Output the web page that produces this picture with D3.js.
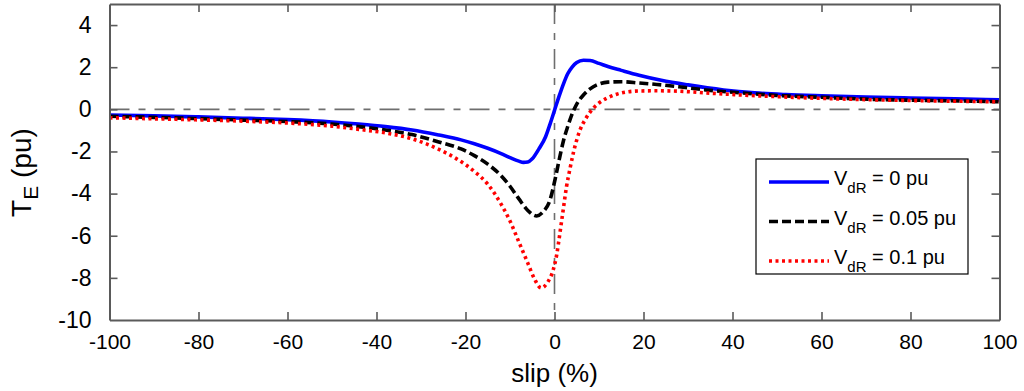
<!DOCTYPE html>
<html>
<head>
<meta charset="utf-8">
<script src="https://cdn.jsdelivr.net/npm/d3@7"></script>
<style>
  html, body { margin: 0; padding: 0; background: #fff; }
  svg { display: block; font-family: "Liberation Sans", Arial, sans-serif; }
</style>
</head>
<body>
<svg id="chart" width="1024" height="391"></svg>
<script>
// ---------------- data ----------------
const xTicks = [-100, -80, -60, -40, -20, 0, 20, 40, 60, 80, 100];
const yTicks = [4, 2, 0, -2, -4, -6, -8, -10];

const slip0 = [-100, -90, -80, -70, -60, -50, -44, -38, -32, -26, -21, -18, -15, -12, -10, -8, -7, -6, -5, -3.5, -2, -1, 0, 1, 2, 3, 4, 5, 6.5, 8, 10, 12, 15, 19, 24, 30, 38, 45, 52, 60, 70, 80, 90, 100];
const te0   = [-0.27, -0.31, -0.36, -0.42, -0.49, -0.6, -0.7, -0.82, -0.98, -1.22, -1.45, -1.63, -1.85, -2.1, -2.29, -2.46, -2.52, -2.5, -2.35, -1.88, -1.3, -0.7, -0.05, 0.6, 1.2, 1.7, 2.02, 2.22, 2.33, 2.32, 2.18, 2.03, 1.85, 1.62, 1.38, 1.16, 0.92, 0.78, 0.7, 0.64, 0.58, 0.54, 0.5, 0.45];

const slip05 = [-100, -90, -80, -70, -60, -50, -44, -38, -32, -26, -21, -18, -15, -12, -10, -8, -6, -4, -2.5, -1, 0, 1, 2, 3, 4, 5, 6.5, 8, 10, 12, 15, 19, 23, 28, 34, 42, 50, 60, 72, 85, 100];
const te05   = [-0.33, -0.38, -0.44, -0.51, -0.58, -0.7, -0.82, -0.98, -1.2, -1.55, -1.88, -2.2, -2.6, -3.15, -3.65, -4.25, -4.8, -5.06, -4.85, -4.3, -3.45, -2.45, -1.5, -0.8, -0.2, 0.25, 0.68, 0.97, 1.2, 1.29, 1.31, 1.25, 1.18, 1.07, 0.92, 0.78, 0.66, 0.57, 0.47, 0.42, 0.36];

const slip1 = [-100, -90, -80, -70, -60, -50, -44, -38, -32, -26, -22, -18, -15, -12, -10, -8, -6, -4.5, -3, -1.5, -0.3, 0.5, 1.2, 2, 2.7, 3.5, 4.2, 5, 5.7, 7, 8.7, 10, 11.7, 14, 16, 19, 23, 28, 34, 42, 50, 60, 72, 85, 100];
const te1   = [-0.4, -0.45, -0.5, -0.56, -0.65, -0.8, -0.95, -1.12, -1.4, -1.9, -2.35, -2.95, -3.55, -4.5, -5.3, -6.3, -7.3, -8.05, -8.48, -8.2, -7.63, -6.9, -5.9, -4.7, -3.67, -2.8, -2.1, -1.45, -1.0, -0.45, 0.05, 0.3, 0.52, 0.72, 0.82, 0.87, 0.88, 0.86, 0.78, 0.68, 0.6, 0.52, 0.45, 0.4, 0.36];

const seriesNames = ["0 pu", "0.05 pu", "0.1 pu"];
const seriesColors = ["#0000ff", "#000000", "#ff0000"];
const seriesDash = [null, "9,4", "3,3.5"];

// ---------------- layout ----------------
const svg = d3.select("#chart");
const L = 109.5, R = 999.5, T = 4, B = 320;
const x = d3.scaleLinear().domain([-100, 100]).range([L, R]);
const y = d3.scaleLinear().domain([-10, 5]).range([B, T]);
const axisColor = "#5a5a5a";
const fmt = d => String(d);

// reference dash-dot lines
const refStroke = "#6e6e6e", refDash = "20,9,7,9";
svg.append("line").attr("x1", x(-100)).attr("x2", x(100)).attr("y1", y(0)).attr("y2", y(0))
  .attr("stroke", refStroke).attr("stroke-width", 1.6).attr("stroke-dasharray", refDash);
svg.append("line").attr("x1", x(0)).attr("x2", x(0)).attr("y1", y(5)).attr("y2", y(-10))
  .attr("stroke", refStroke).attr("stroke-width", 1.6).attr("stroke-dasharray", refDash);

// curves
const data = [
  slip0.map((s, i) => [s, te0[i]]),
  slip05.map((s, i) => [s, te05[i]]),
  slip1.map((s, i) => [s, te1[i]])
];
const line = d3.line().x(d => x(d[0])).y(d => y(d[1])).curve(d3.curveMonotoneX);
data.forEach((d, i) => {
  svg.append("path").datum(d).attr("d", line)
    .attr("fill", "none").attr("stroke", seriesColors[i]).attr("stroke-width", 3.6)
    .attr("stroke-dasharray", seriesDash[i]);
});

// axes (box with inward ticks)
const tickLen = 8;
const axB = svg.append("g").attr("transform", `translate(0,${B})`)
  .call(d3.axisBottom(x).tickValues(xTicks).tickSizeInner(-tickLen).tickSizeOuter(0).tickPadding(14).tickFormat(fmt));
const axT = svg.append("g").attr("transform", `translate(0,${T})`)
  .call(d3.axisTop(x).tickValues(xTicks).tickSizeInner(-tickLen).tickSizeOuter(0).tickFormat(""));
const axL = svg.append("g").attr("transform", `translate(${L},0)`)
  .call(d3.axisLeft(y).tickValues(yTicks).tickSizeInner(-tickLen).tickSizeOuter(0).tickPadding(18).tickFormat(fmt));
const axR = svg.append("g").attr("transform", `translate(${R},0)`)
  .call(d3.axisRight(y).tickValues(yTicks).tickSizeInner(-tickLen).tickSizeOuter(0).tickFormat(""));
[axB, axT, axL, axR].forEach(g => {
  g.select(".domain").attr("stroke", axisColor).attr("stroke-width", 2);
  g.selectAll(".tick line").attr("stroke", axisColor).attr("stroke-width", 1.6);
});
axB.selectAll(".tick text").attr("fill", "#000").attr("font-size", 21).attr("font-family", "Liberation Sans, Arial, sans-serif");
axL.selectAll(".tick text").attr("fill", "#000").attr("font-size", 23).attr("font-family", "Liberation Sans, Arial, sans-serif");
[axB, axT].forEach(g => g.selectAll(".tick").filter(d => d === -100 || d === 100).select("line").remove());
[axL, axR].forEach(g => g.selectAll(".tick").filter(d => d === -10).select("line").remove());

// axis titles
svg.append("text").attr("x", x(0)).attr("y", 382).attr("text-anchor", "middle")
  .attr("font-size", 26).attr("fill", "#000").text("slip (%)");
const yl = svg.append("text").attr("transform", `translate(31,${y(-3)}) rotate(-90)`)
  .attr("text-anchor", "middle").attr("font-size", 28).attr("fill", "#000");
yl.append("tspan").text("T");
yl.append("tspan").attr("font-size", 21).attr("dy", 7).text("E");
yl.append("tspan").attr("dy", -7).text(" (pu)");

// legend
const lg = svg.append("g").attr("transform", "translate(756,159)");
lg.append("rect").attr("x", 0).attr("y", 0).attr("width", 212).attr("height", 115)
  .attr("fill", "#fff").attr("stroke", "#000").attr("stroke-width", 1.2);
seriesNames.forEach((name, i) => {
  const ry = 23 + i * 39.5;
  lg.append("line").attr("x1", 13).attr("x2", 73).attr("y1", ry).attr("y2", ry)
    .attr("stroke", seriesColors[i]).attr("stroke-width", 3.6).attr("stroke-dasharray", seriesDash[i]);
  const t = lg.append("text").attr("x", 78).attr("y", ry + 3).attr("font-size", 20).attr("fill", "#000");
  t.append("tspan").text("V");
  t.append("tspan").attr("font-size", 15).attr("dy", 8).text("dR");
  t.append("tspan").attr("dy", -8).text(" = " + name);
});
</script>
</body>
</html>
